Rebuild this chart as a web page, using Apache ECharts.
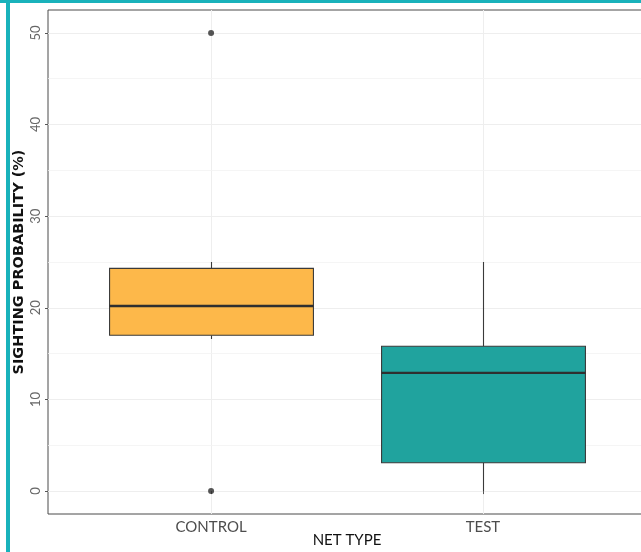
<!DOCTYPE html>
<html>
<head>
<meta charset="utf-8">
<script src="https://cdn.jsdelivr.net/npm/echarts@6/dist/echarts.min.js"></script>
<style>
html,body{margin:0;padding:0;background:#fff;}
#chart{width:641px;height:552px;}
</style>
</head>
<body>
<div id="chart"></div>
<script>
const categories = ['CONTROL', 'TEST'];
const whiskerLow = [16.6, 0];
const q1Values = [17.0, 3.1];
const medianValues = [20.2, 12.9];
const q3Values = [24.3, 15.8];
const whiskerHigh = [25, 25];
const outlierCategory = [0, 0];
const outlierValues = [50, 0];
const boxColors = ['#FDB84A', '#20A39E'];
const yTicks = [0, 10, 20, 30, 40, 50];
const yMinorTicks = [5, 15, 25, 35, 45];

const chart = echarts.init(document.getElementById('chart'), null, {renderer: 'canvas'});

const boxData = categories.map((c, i) => [i + 1, whiskerLow[i], q1Values[i], medianValues[i], q3Values[i], whiskerHigh[i]]);
const outlierData = outlierCategory.map((c, i) => [c + 1, outlierValues[i]]);
const xTickPositions = categories.map((c, i) => i + 1);

const lineCol = '#3a3a3a';
const font = 'Lato, "Open Sans", sans-serif';

const option = {
  animation: false,
  backgroundColor: '#ffffff',
  grid: {
    left: 48, top: 10, right: -5, bottom: 38,
    outerBoundsMode: 'none', containLabel: false,
    show: true, borderColor: '#4a4a4a', borderWidth: 1, backgroundColor: 'transparent'
  },
  xAxis: {
    type: 'value', min: 0.4, max: 2.6,
    name: 'NET TYPE', nameLocation: 'middle', nameGap: 19, nameMoveOverlap: false,
    nameTextStyle: {color: '#111', fontSize: 15, fontFamily: font},
    axisLine: {show: false},
    axisTick: {show: true, customValues: xTickPositions, length: 3, lineStyle: {color: '#555'}},
    axisLabel: {
      customValues: xTickPositions, margin: 6, color: '#4D4D4D', fontSize: 15, fontFamily: font,
      formatter: v => categories[Math.round(v) - 1] || ''
    },
    splitLine: {show: true, lineStyle: {color: '#EEEEEE', width: 1}}
  },
  yAxis: {
    type: 'value', min: -2.5, max: 52.5,
    name: 'SIGHTING PROBABILITY (%)', nameLocation: 'middle', nameGap: 21, nameMoveOverlap: false,
    nameTextStyle: {color: '#111', fontSize: 14.5, fontWeight: 'bold', fontFamily: '"DejaVu Sans", sans-serif'},
    axisLine: {show: false},
    axisTick: {show: true, customValues: yTicks, length: 3, lineStyle: {color: '#555'}},
    axisLabel: {customValues: yTicks, rotate: 90, margin: 6, color: '#666', fontSize: 13, fontFamily: font},
    splitLine: {show: true, lineStyle: {color: '#EEEEEE', width: 1}}
  },
  graphic: [
    {type: 'rect', shape: {x: 6, y: 0, width: 4, height: 552}, style: {fill: '#19B2BB'}, z: 100},
    {type: 'rect', shape: {x: 0, y: 0, width: 641, height: 3}, style: {fill: '#19B2BB'}, z: 100}
  ],
  series: [
    {
      type: 'line', data: [], z: 0, silent: true,
      markLine: {
        z: 0, silent: true, symbol: 'none', label: {show: false},
        lineStyle: {color: '#F3F3F3', width: 0.8, type: 'solid'},
        data: yMinorTicks.map(v => ({yAxis: v}))
      }
    },
    {
      type: 'custom', z: 10,
      data: boxData,
      encode: {x: 0, y: [1, 2, 3, 4, 5]},
      renderItem: function (params, api) {
        const x = api.value(0);
        const lo = api.coord([x, api.value(1)]);
        const q1 = api.coord([x, api.value(2)]);
        const med = api.coord([x, api.value(3)]);
        const q3 = api.coord([x, api.value(4)]);
        const hi = api.coord([x, api.value(5)]);
        const bw = api.size([1, 0])[0] * 0.75;
        const cx = Math.round(q1[0]) + 0.5;
        const left = cx - bw / 2;
        return {
          type: 'group',
          children: [
            {type: 'line', shape: {x1: cx, y1: hi[1], x2: cx, y2: q3[1]}, style: {stroke: lineCol, lineWidth: 1.1}},
            {type: 'line', shape: {x1: cx, y1: q1[1], x2: cx, y2: lo[1]}, style: {stroke: lineCol, lineWidth: 1.1}},
            {type: 'rect', shape: {x: left, y: q3[1], width: bw, height: q1[1] - q3[1]},
             style: {fill: boxColors[params.dataIndex], stroke: lineCol, lineWidth: 1.1}},
            {type: 'line', shape: {x1: left, y1: med[1], x2: left + bw, y2: med[1]}, style: {stroke: '#2f2f2f', lineWidth: 2.4}}
          ]
        };
      }
    },
    {
      type: 'scatter', z: 11,
      data: outlierData,
      symbol: 'circle', symbolSize: 6,
      itemStyle: {color: '#2a2a2a'}
    }
  ]
};
chart.setOption(option);
</script>
</body>
</html>
